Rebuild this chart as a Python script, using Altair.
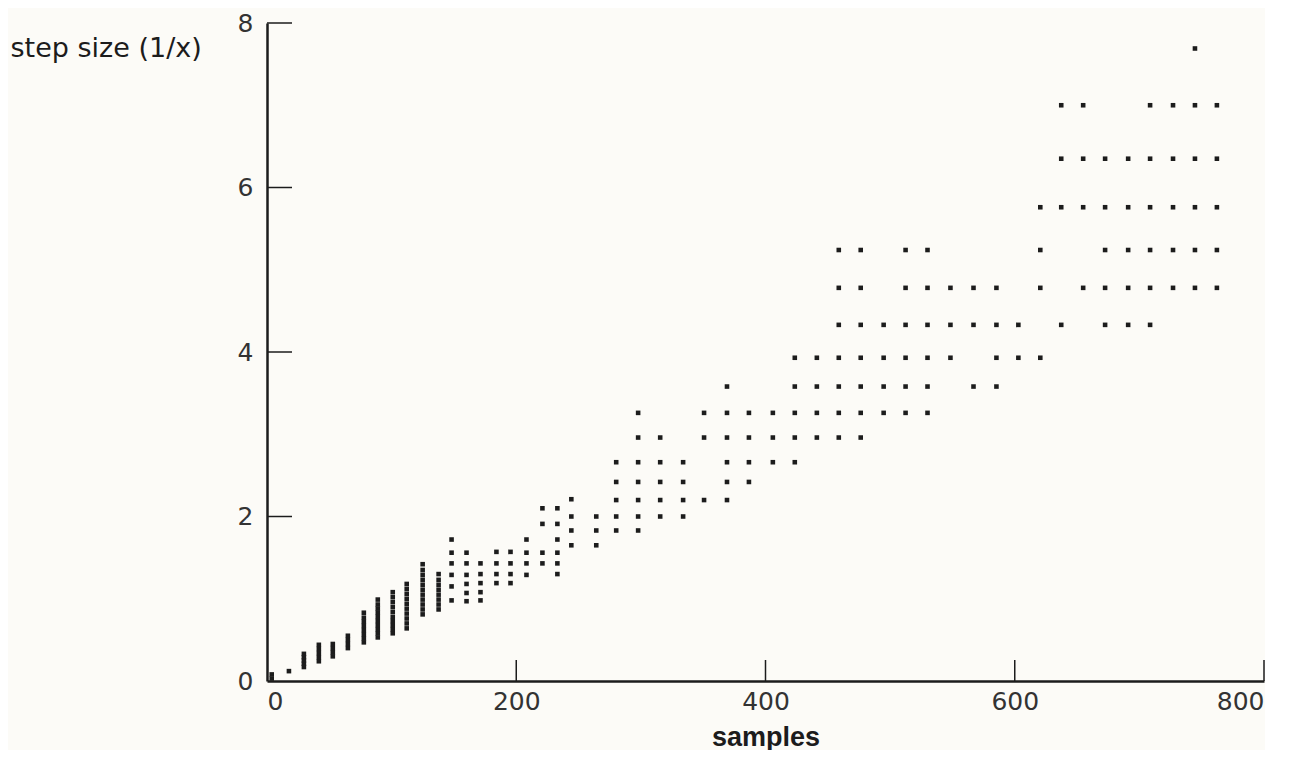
import altair as alt
import pandas as pd

# x positions of the sample columns (samples)
samples = [3.8, 17.6, 29.6, 41.6, 52.8, 64.9, 77.7, 88.9, 100.9, 112.1,
           124.9, 137.7, 148.1, 160.1, 171.3, 184.1, 195.4, 208.2, 221.0, 233.0,
           244.2, 264.2, 280.2, 297.8, 315.5, 333.9, 350.7, 369.1, 386.7, 405.9,
           423.5, 441.2, 458.8, 476.4, 494.8, 512.4, 530.0, 548.4, 566.9, 585.3,
           602.9, 620.5, 637.3, 654.9, 672.5, 691.0, 708.6, 727.0, 744.6, 762.2]

# step sizes (1/x) observed in each column
step_sizes = [
    [0.03, 0.08],
    [0.12],
    [0.17, 0.21, 0.25, 0.29, 0.33],
    [0.24, 0.29, 0.34, 0.39, 0.44],
    [0.30, 0.35, 0.40, 0.45],
    [0.40, 0.45, 0.50, 0.55],
    [0.47, 0.52, 0.57, 0.62, 0.67, 0.72, 0.77, 0.83],
    [0.53, 0.58, 0.63, 0.68, 0.73, 0.78, 0.83, 0.88, 0.93, 0.99],
    [0.58, 0.63, 0.68, 0.73, 0.78, 0.84, 0.90, 0.96, 1.02, 1.08],
    [0.64, 0.70, 0.76, 0.82, 0.88, 0.94, 1.00, 1.06, 1.12, 1.18],
    [0.81, 0.87, 0.93, 0.99, 1.05, 1.11, 1.17, 1.23, 1.29, 1.35, 1.42],
    [0.87, 0.93, 0.99, 1.05, 1.11, 1.17, 1.23, 1.30],
    [0.98, 1.15, 1.29, 1.43, 1.56, 1.72],
    [0.97, 1.07, 1.18, 1.29, 1.43, 1.56],
    [0.98, 1.08, 1.19, 1.30, 1.43],
    [1.19, 1.30, 1.43, 1.57],
    [1.19, 1.30, 1.43, 1.57],
    [1.29, 1.43, 1.56, 1.72],
    [1.43, 1.56, 1.91, 2.10],
    [1.30, 1.43, 1.56, 1.72, 1.91, 2.10],
    [1.65, 1.83, 2.00, 2.21],
    [1.65, 1.83, 2.00],
    [1.83, 2.00, 2.20, 2.42, 2.66],
    [1.83, 2.00, 2.20, 2.42, 2.66, 2.96, 3.26],
    [2.00, 2.20, 2.42, 2.66, 2.96],
    [2.00, 2.20, 2.42, 2.66],
    [2.20, 2.96, 3.26],
    [2.20, 2.42, 2.66, 2.96, 3.26, 3.58],
    [2.42, 2.66, 2.96, 3.26],
    [2.66, 2.96, 3.26],
    [2.66, 2.96, 3.26, 3.58, 3.93],
    [2.96, 3.26, 3.58, 3.93],
    [2.96, 3.26, 3.58, 3.93, 4.33, 4.78, 5.24],
    [2.96, 3.26, 3.58, 3.93, 4.33, 4.78, 5.24],
    [3.26, 3.58, 3.93, 4.33],
    [3.26, 3.58, 3.93, 4.33, 4.78, 5.24],
    [3.26, 3.58, 3.93, 4.33, 4.78, 5.24],
    [3.93, 4.33, 4.78],
    [3.58, 4.33, 4.78],
    [3.58, 3.93, 4.33, 4.78],
    [3.93, 4.33],
    [3.93, 4.78, 5.24, 5.76],
    [4.33, 5.76, 6.35, 7.00],
    [4.78, 5.76, 6.35, 7.00],
    [4.33, 4.78, 5.24, 5.76, 6.35],
    [4.33, 4.78, 5.24, 5.76, 6.35],
    [4.33, 4.78, 5.24, 5.76, 6.35, 7.00],
    [4.78, 5.24, 5.76, 6.35, 7.00],
    [4.78, 5.24, 5.76, 6.35, 7.00, 7.69],
    [4.78, 5.24, 5.76, 6.35, 7.00],
]

x_tick_values = [200, 400, 600, 800]
y_tick_values = [2, 4, 6, 8]

rows = []
for s, vals in zip(samples, step_sizes):
    for v in vals:
        rows.append({"samples": s, "step": v})
points_df = pd.DataFrame(rows)
xt_df = pd.DataFrame({"samples": x_tick_values})
yt_df = pd.DataFrame({"step": y_tick_values})

W, H = 997, 658
INK = "#1c1c1c"

xscale = alt.Scale(domain=[0, 800], nice=False, zero=True)
yscale = alt.Scale(domain=[0, 8], nice=False, zero=True)

x_axis = alt.Axis(values=[0, 200, 400, 600, 800], title="samples",
                  titleFont="Liberation Sans", titleFontWeight="bold",
                  titleFontSize=27, titleY=56, titleBaseline="middle",
                  titleColor=INK)
y_axis = alt.Axis(values=[0, 2, 4, 6, 8], title="step size (1/x)",
                  titleAngle=0, titleAlign="left", titleBaseline="middle",
                  titleX=-257, titleY=25, titleFont="DejaVu Sans",
                  titleFontSize=27, titleFontWeight="normal",
                  titleColor=INK, labelPadding=14)

points = alt.Chart(points_df).mark_square(size=21, color=INK, opacity=1).encode(
    x=alt.X("samples:Q", scale=xscale, axis=x_axis),
    y=alt.Y("step:Q", scale=yscale, axis=y_axis),
)

xticks = alt.Chart(xt_df).mark_rule(color=INK, strokeWidth=1.5).encode(
    x=alt.X("samples:Q", scale=xscale, axis=x_axis),
    y=alt.value(H),
    y2=alt.value(H - 21),
)

yticks = alt.Chart(yt_df).mark_rule(color=INK, strokeWidth=1.5).encode(
    y=alt.Y("step:Q", scale=yscale, axis=y_axis),
    x=alt.value(0),
    x2=alt.value(25),
)

chart = alt.layer(points, xticks, yticks).properties(
    width=W, height=H,
    background="#fcfbf7",
    padding={"left": 2, "top": 3, "right": 0, "bottom": 0},
).configure_view(stroke=None).configure_axis(
    grid=False, ticks=False, domainColor=INK, domainWidth=2.5,
    labelFont="DejaVu Sans", labelFontSize=25, labelFontWeight="normal",
    labelColor="#333333", labelPadding=8,
)

chart.save("out.html", embed_options={"renderer": "svg", "actions": False})
